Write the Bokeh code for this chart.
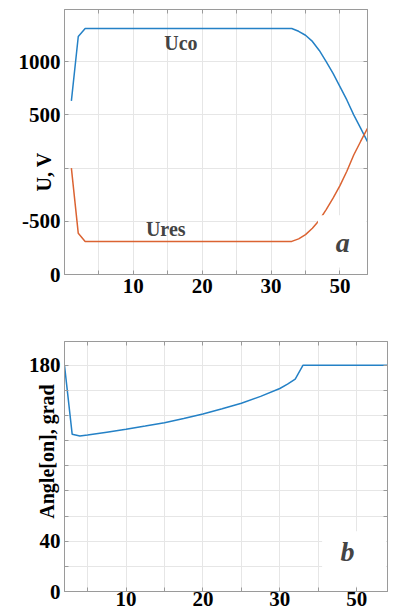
from bokeh.plotting import figure
from bokeh.layouts import column
from bokeh.models import FixedTicker, LinearAxis, Label, BoxAnnotation, Range1d
from bokeh.embed import file_html
from bokeh.resources import INLINE

# ---------------- data: panel a ----------------
t_a = [1, 2, 3, 33, 34, 35, 36, 37, 38, 39, 40, 41, 42, 43, 44]
u_co = [632, 1236, 1311, 1311, 1285, 1248, 1190, 1105, 1000, 890, 765, 640, 500, 375, 248]
u_res = [0, -613, -689, -689, -665, -625, -565, -490, -390, -283, -165, -30, 123, 250, 374]
x_ticks_a = [5, 10, 15, 20, 25, 30, 35, 40]
x_labels_a = {5: "", 10: "10", 15: "", 20: "20", 25: "", 30: "30", 35: "", 40: "50"}
y_ticks_a = [-1000, -500, 0, 500, 1000]
y_labels_a = {-1000: "0", -500: "-500", 0: "", 500: "500", 1000: "1000"}

# ---------------- data: panel b ----------------
t_b = [2, 3, 4, 5, 7.5, 10, 12.5, 15, 17.5, 20, 22.5, 25, 27.5, 30, 31, 32, 33, 44]
angle = [180, 125.1, 123.7, 124.5, 126.8, 129.1, 131.7, 134.4, 137.7, 141.3, 145.4, 149.9,
         155.3, 161.6, 165, 169, 180, 180]
x_ticks_b = [5, 10, 15, 20, 25, 30, 35, 40]
x_labels_b = {5: "", 10: "10", 15: "", 20: "20", 25: "", 30: "30", 35: "", 40: "50"}
y_ticks_b = [0, 20, 40, 60, 80, 100, 120, 140, 160, 180]
y_labels_b = {0: "0", 20: "", 40: "40", 60: "", 80: "", 100: "", 120: "", 140: "", 160: "", 180: "180"}

BLUE = "#2481c6"
ORANGE = "#db6332"
FRAME = "#9a9a9a"
GRID = "#e6e6e6"
FONT = "Liberation Serif"
NB = "\u00a0"


def style(p, xt, xl, yt, yl, xstand, ylabel, ystand):
    p.outline_line_color = FRAME
    p.outline_line_width = 1
    for ax in p.xaxis + p.yaxis:
        ax.axis_line_color = FRAME
        ax.major_tick_line_color = FRAME
        ax.major_tick_in = 4
        ax.major_tick_out = 0
        ax.minor_tick_line_color = None
        ax.major_label_text_font = FONT
        ax.major_label_text_font_style = "bold"
        ax.major_label_text_font_size = "21px"
        ax.major_label_text_color = "black"
    p.xaxis.ticker = FixedTicker(ticks=xt)
    p.xaxis.major_label_overrides = xl
    p.xaxis.major_label_standoff = xstand
    p.yaxis.ticker = FixedTicker(ticks=yt)
    p.yaxis.major_label_overrides = yl
    p.yaxis.major_label_standoff = 4
    p.yaxis.axis_label = ylabel
    p.yaxis.axis_label_standoff = ystand
    p.yaxis.axis_label_text_font = FONT
    p.yaxis.axis_label_text_font_style = "bold"
    p.yaxis.axis_label_text_font_size = "20px"
    p.yaxis.axis_label_text_color = "black"
    p.xgrid.ticker = FixedTicker(ticks=xt)
    p.ygrid.ticker = FixedTicker(ticks=yt)
    p.xgrid.grid_line_color = GRID
    p.ygrid.grid_line_color = GRID
    # inward ticks on top and right
    for loc, ticks in (("above", xt), ("right", yt)):
        ax = LinearAxis(ticker=FixedTicker(ticks=ticks))
        ax.axis_line_color = FRAME
        ax.major_tick_line_color = FRAME
        ax.major_tick_in = 4
        ax.major_tick_out = 0
        ax.minor_tick_line_color = None
        ax.major_label_text_font_size = "0px"
        ax.major_label_standoff = 0
        ax.major_label_overrides = {t: "" for t in ticks}
        p.add_layout(ax, loc)


# ---------------- panel a ----------------
pa = figure(width=370, height=300, output_backend="svg", toolbar_location=None,
            x_range=Range1d(0, 44), y_range=Range1d(-1000, 1490),
            min_border_left=64, min_border_right=3, min_border_top=9, min_border_bottom=26)
# trailing no-break spaces push the vertical label downward along the axis
style(pa, x_ticks_a, x_labels_a, y_ticks_a, y_labels_a, 4, "U, V" + NB * 12, -39)
pa.line(t_a, u_co, line_color=BLUE, line_width=1.5)
pa.line(t_a, u_res, line_color=ORANGE, line_width=1.5)
pa.add_layout(BoxAnnotation(left=36.8, right=43.9, bottom=-934, top=-443,
                            fill_color="white", fill_alpha=1, line_color=None))
pa.add_layout(Label(x=16.9, y=1179, text="Uco", text_align="center", text_baseline="middle",
                    text_font=FONT, text_font_style="bold", text_font_size="20px"))
pa.add_layout(Label(x=14.7, y=-575, text="Ures", text_align="center", text_baseline="middle",
                    text_font=FONT, text_font_style="bold", text_font_size="20px"))
pa.add_layout(Label(x=40.4, y=-698, text="a", text_align="center", text_baseline="middle",
                    text_font=FONT, text_font_style="bold italic", text_font_size="28px"))

# ---------------- panel b ----------------
pb = figure(width=390, height=312, output_backend="svg", toolbar_location=None,
            x_range=Range1d(2, 44), y_range=Range1d(0, 199),
            min_border_left=61, min_border_right=1, min_border_top=41, min_border_bottom=21)
# leading no-break spaces push the vertical label upward along the axis
style(pb, x_ticks_b, x_labels_b, y_ticks_b, y_labels_b, 0, NB * 6 + "Angle[on], grad", -32)
pb.line(t_b, angle, line_color=BLUE, line_width=1.5)
pb.add_layout(BoxAnnotation(left=35.5, right=43.9, bottom=4, top=48,
                            fill_color="white", fill_alpha=1, line_color=None))
pb.add_layout(Label(x=38.8, y=32, text="b", text_align="center", text_baseline="middle",
                    text_font=FONT, text_font_style="bold italic", text_font_size="28px"))

layout = column(pa, pb, spacing=0)
open("out.html", "w").write(file_html(layout, INLINE))
